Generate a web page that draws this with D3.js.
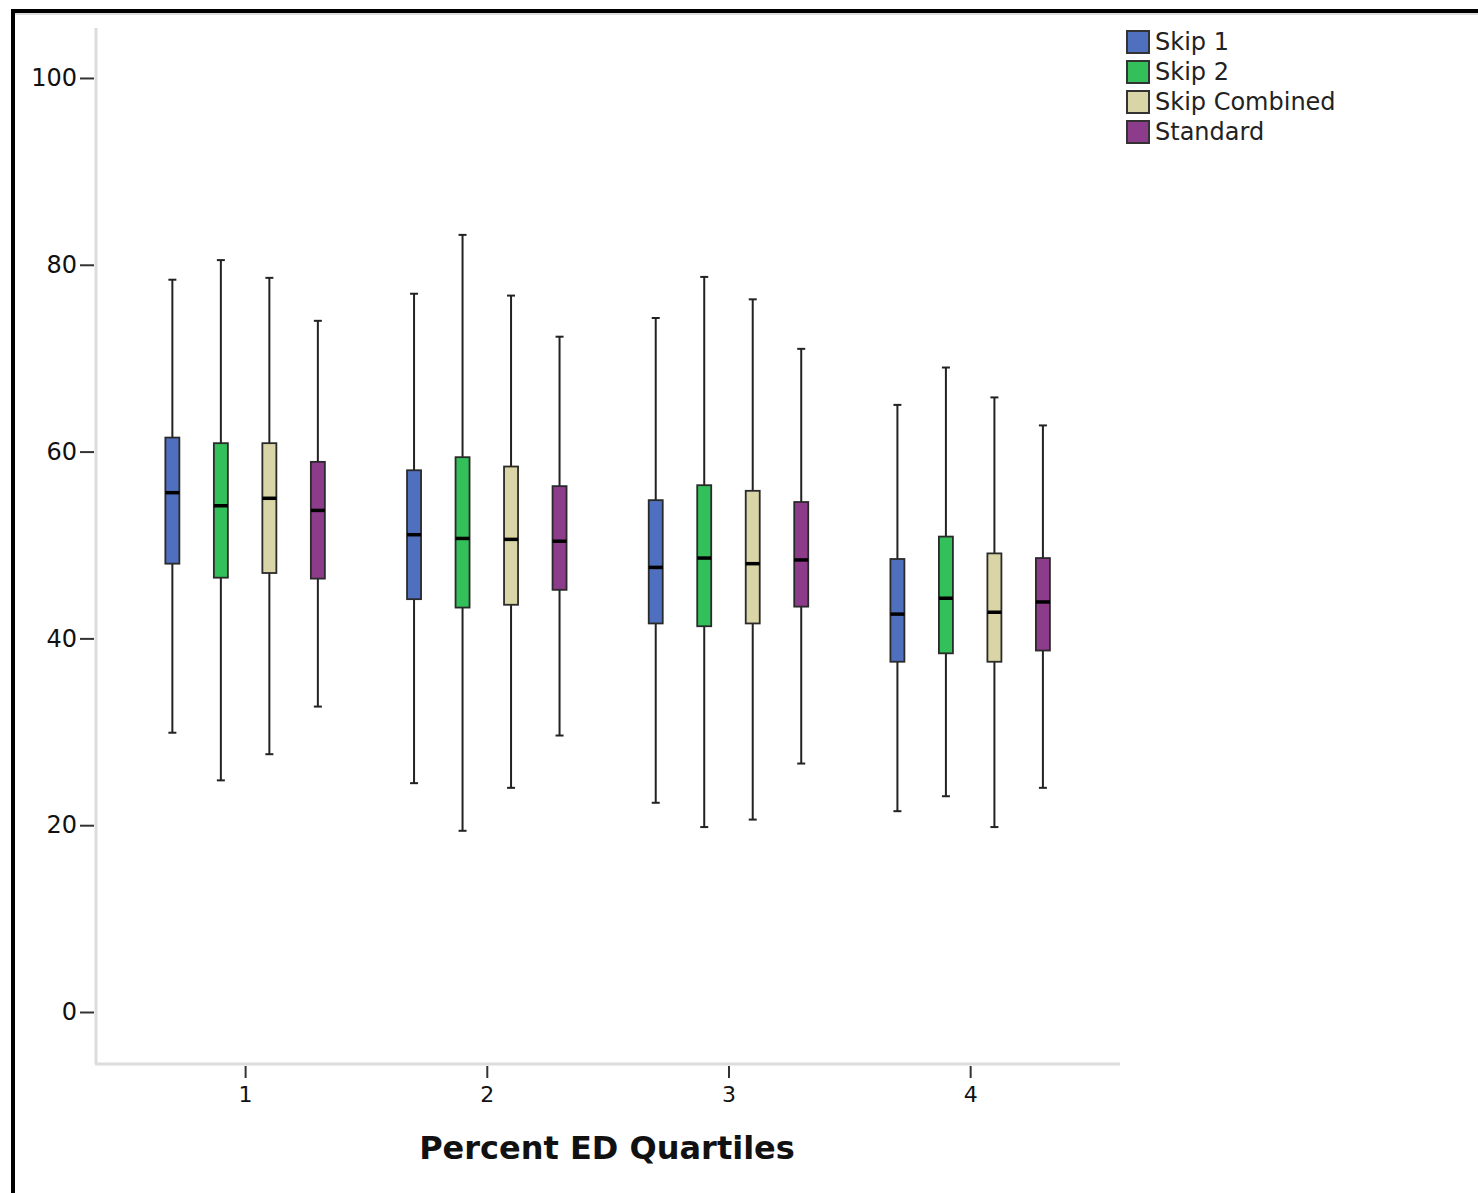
<!DOCTYPE html>
<html><head><meta charset="utf-8">
<script src="https://cdn.jsdelivr.net/npm/d3@7"></script>
<style>html,body{margin:0;padding:0;background:#fff;}svg{display:block;}</style>
</head><body>
<script>
const groups = [1, 2, 3, 4];
const series = ["Skip 1", "Skip 2", "Skip Combined", "Standard"];
const colors = ["#4f6fbf", "#33c05a", "#dad5a6", "#8d3c8c"];
// [low whisker, Q1, median, Q3, high whisker] per group, per series
const skip1 = [[29.9,48.0,55.6,61.5,78.4],[24.5,44.2,51.1,58.0,76.9],[22.4,41.6,47.6,54.8,74.3],[21.5,37.5,42.6,48.5,65.0]];
const skip2 = [[24.8,46.5,54.2,60.9,80.5],[19.4,43.3,50.7,59.4,83.2],[19.8,41.3,48.6,56.4,78.7],[23.1,38.4,44.3,50.9,69.0]];
const skipCombined = [[27.6,47.0,55.0,60.9,78.6],[24.0,43.6,50.6,58.4,76.7],[20.6,41.6,48.0,55.8,76.3],[19.8,37.5,42.8,49.1,65.8]];
const standard = [[32.7,46.4,53.7,58.9,74.0],[29.6,45.2,50.4,56.3,72.3],[26.6,43.4,48.4,54.6,71.0],[24.0,38.7,43.9,48.6,62.8]];
const yTicks = [0, 20, 40, 60, 80, 100];
const xLabel = "Percent ED Quartiles";

const allData = [skip1, skip2, skipCombined, standard];
const W = 1478, H = 1193;
const svg = d3.select("body").append("svg").attr("width", W).attr("height", H);
const font = "'DejaVu Sans', Verdana, sans-serif";

// frame
svg.append("line").attr("x1", 11).attr("x2", W).attr("y1", 11).attr("y2", 11).attr("stroke", "#000").attr("stroke-width", 4);
svg.append("line").attr("x1", 13).attr("x2", 13).attr("y1", 9).attr("y2", H).attr("stroke", "#000").attr("stroke-width", 4);
svg.append("line").attr("x1", 15).attr("x2", W).attr("y1", 14).attr("y2", 14).attr("stroke", "#bbb").attr("stroke-width", 1);

const y = d3.scaleLinear().domain([-5.46, 105.35]).range([1063, 28]);
const x = d3.scaleLinear().domain([0.383, 4.62]).range([96, 1120]);
const inner = d3.scaleBand().domain(series).range([-97, 97]);

// axis lines
svg.append("line").attr("x1", 96).attr("x2", 96).attr("y1", y.range()[1]).attr("y2", 1064).attr("stroke", "#dcdcdc").attr("stroke-width", 3);
svg.append("line").attr("x1", 95).attr("x2", 1120).attr("y1", 1064).attr("y2", 1064).attr("stroke", "#dcdcdc").attr("stroke-width", 3);

// y ticks
const yAxis = d3.axisLeft(y).tickValues(yTicks).tickSize(14).tickPadding(3);
const gy = svg.append("g").attr("transform", "translate(94,0)").call(yAxis);
gy.select(".domain").remove();
gy.selectAll(".tick line").attr("stroke", "#333").attr("stroke-width", 2);
gy.selectAll(".tick text").attr("font-family", font).attr("font-size", 24).attr("fill", "#111");

// x ticks
const xAxis = d3.axisBottom(x).tickValues(groups).tickFormat(d3.format("d")).tickSize(12).tickPadding(8);
const gx = svg.append("g").attr("transform", "translate(0,1066)").call(xAxis);
gx.select(".domain").remove();
gx.selectAll(".tick line").attr("stroke", "#333").attr("stroke-width", 2);
gx.selectAll(".tick text").attr("font-family", font).attr("font-size", 22).attr("fill", "#111");

// title
svg.append("text").attr("x", 607).attr("y", 1159).attr("text-anchor", "middle")
  .attr("font-family", font).attr("font-weight", "bold").attr("font-size", 32).attr("fill", "#111").text(xLabel);

// boxes
const bw = 14, cap = 8;
series.forEach((s, si) => {
  groups.forEach((g, gi) => {
    const d = allData[si][gi];
    const cx = x(g) + inner(s) + inner.bandwidth() / 2;
    const gg = svg.append("g");
    gg.append("line").attr("x1", cx).attr("x2", cx).attr("y1", y(d[4])).attr("y2", y(d[0])).attr("stroke", "#222").attr("stroke-width", 2);
    gg.append("line").attr("x1", cx - cap / 2).attr("x2", cx + cap / 2).attr("y1", y(d[4])).attr("y2", y(d[4])).attr("stroke", "#222").attr("stroke-width", 2);
    gg.append("line").attr("x1", cx - cap / 2).attr("x2", cx + cap / 2).attr("y1", y(d[0])).attr("y2", y(d[0])).attr("stroke", "#222").attr("stroke-width", 2);
    gg.append("rect").attr("x", cx - bw / 2).attr("y", y(d[3])).attr("width", bw).attr("height", y(d[1]) - y(d[3]))
      .attr("fill", colors[si]).attr("stroke", "#2a2a2a").attr("stroke-width", 1.8);
    gg.append("line").attr("x1", cx - bw / 2).attr("x2", cx + bw / 2).attr("y1", y(d[2])).attr("y2", y(d[2])).attr("stroke", "#000").attr("stroke-width", 3.5);
  });
});

// legend
const lg = svg.append("g");
series.forEach((s, i) => {
  const yy = 31 + i * 30;
  lg.append("rect").attr("x", 1127).attr("y", yy).attr("width", 22).attr("height", 22)
    .attr("fill", colors[i]).attr("stroke", "#333").attr("stroke-width", 2);
  lg.append("text").attr("x", 1155).attr("y", yy + 19).attr("font-family", font).attr("font-size", 24).attr("fill", "#222").text(s);
});
</script>
</body></html>
